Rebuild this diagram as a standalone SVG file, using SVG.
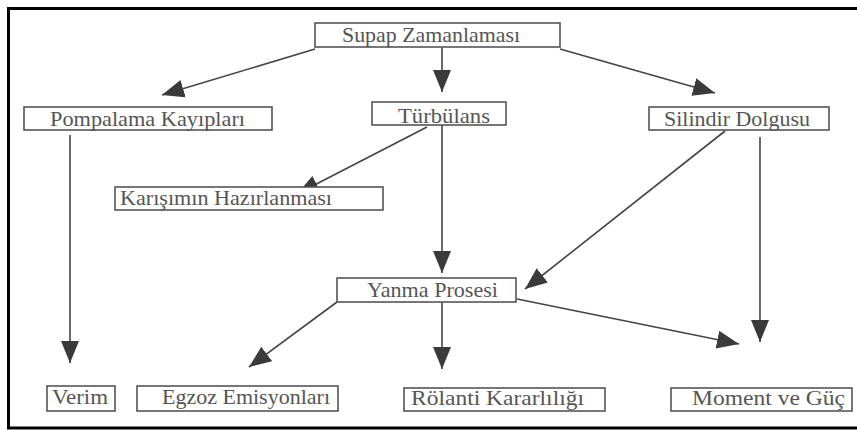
<svg xmlns="http://www.w3.org/2000/svg" width="857" height="430" viewBox="0 0 857 430">
<defs>
<marker id="ah" markerUnits="userSpaceOnUse" markerWidth="24" markerHeight="20" refX="22" refY="9" orient="auto">
<path d="M0,0 L22,9 L0,18 z" fill="#3a3a3a"/>
</marker>
<style>
.box{fill:#fff;stroke:#555;stroke-width:1.6}
.t{font-family:"Liberation Serif","Times New Roman",serif;font-size:22px;fill:#555}
.c{stroke:#444;stroke-width:1.6;fill:none;marker-end:url(#ah)}
.frame{stroke:#000;stroke-width:3;fill:none}
</style>
</defs>
<rect width="857" height="430" fill="#fff"/>
<path class="frame" d="M857,8.5 H8.5 V428 H857"/>
<g id="connectors">
<line class="c" x1="315" y1="49" x2="162" y2="95"/>
<line class="c" x1="442" y1="47" x2="442" y2="92"/>
<line class="c" x1="560" y1="49" x2="715" y2="93"/>
<line class="c" x1="70" y1="135" x2="70" y2="363"/>
<line class="c" x1="427" y1="127" x2="297" y2="194"/>
<line class="c" x1="442" y1="125" x2="442" y2="273"/>
<line class="c" x1="725" y1="131" x2="525" y2="289"/>
<line class="c" x1="760" y1="137" x2="760" y2="342"/>
<line class="c" x1="337" y1="302" x2="249" y2="367"/>
<line class="c" x1="442" y1="302" x2="442" y2="369"/>
<line class="c" x1="517" y1="299" x2="739" y2="344"/>
</g>
<g id="n-supap"><rect class="box" x="315" y="23" width="245" height="24"/><text class="t" x="342" y="42" textLength="178" lengthAdjust="spacingAndGlyphs">Supap Zamanlaması</text></g>
<g id="n-pompalama"><rect class="box" x="24" y="107" width="248" height="23"/><text class="t" x="50" y="126" textLength="195" lengthAdjust="spacingAndGlyphs">Pompalama Kayıpları</text></g>
<g id="n-turbulans"><rect class="box" x="372" y="102" width="134" height="23"/><text class="t" x="398" y="123" textLength="92" lengthAdjust="spacingAndGlyphs">Türbülans</text></g>
<g id="n-silindir"><rect class="box" x="649" y="107" width="180" height="23"/><text class="t" x="664" y="126" textLength="146" lengthAdjust="spacingAndGlyphs">Silindir Dolgusu</text></g>
<g id="n-karisim"><rect class="box" x="115" y="187" width="268" height="23"/><text class="t" x="120" y="205" textLength="212" lengthAdjust="spacingAndGlyphs">Karışımın Hazırlanması</text></g>
<g id="n-yanma"><rect class="box" x="337" y="278" width="179" height="24"/><text class="t" x="367" y="297" textLength="131" lengthAdjust="spacingAndGlyphs">Yanma Prosesi</text></g>
<g id="n-verim"><rect class="box" x="47" y="386" width="68" height="25"/><text class="t" x="52" y="404" textLength="56" lengthAdjust="spacingAndGlyphs">Verim</text></g>
<g id="n-egzoz"><rect class="box" x="137" y="386" width="201" height="25"/><text class="t" x="162" y="404" textLength="168" lengthAdjust="spacingAndGlyphs">Egzoz Emisyonları</text></g>
<g id="n-rolanti"><rect class="box" x="404" y="388" width="201" height="23"/><text class="t" x="411" y="405" textLength="173" lengthAdjust="spacingAndGlyphs">Rölanti Kararlılığı</text></g>
<g id="n-moment"><rect class="box" x="671" y="388" width="181" height="23"/><text class="t" x="692" y="405" textLength="153" lengthAdjust="spacingAndGlyphs">Moment ve Güç</text></g>
</svg>
